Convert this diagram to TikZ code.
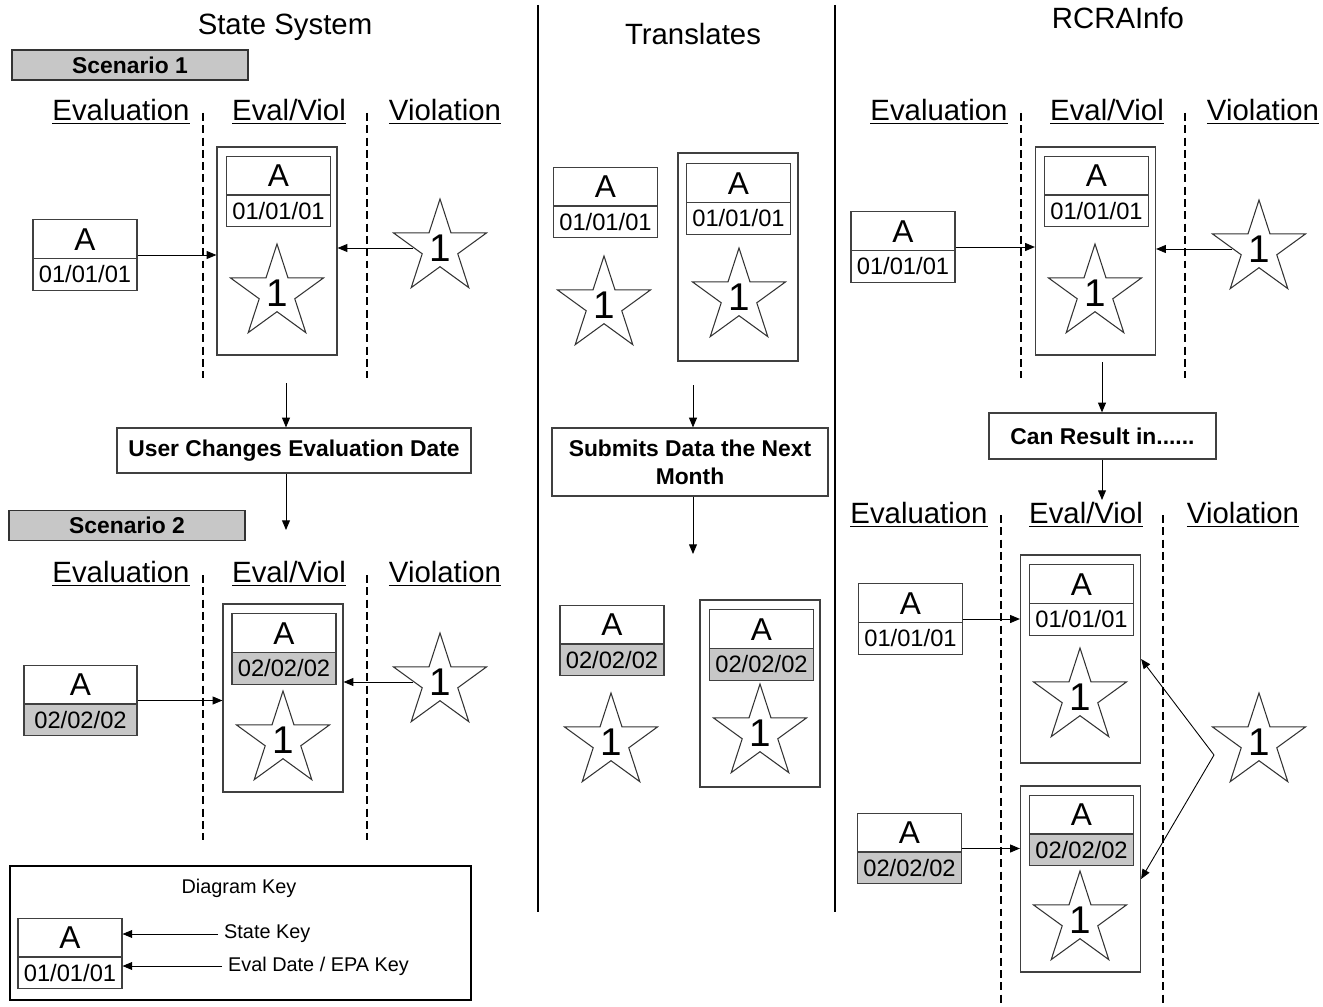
\documentclass[tikz,border=0pt]{standalone}
\usepackage{fontspec}
\setmainfont{Liberation Sans}
\usetikzlibrary{arrows.meta,positioning,shapes.geometric,shapes.multipart}

\newcommand{\titlefont}{\fontsize{16.7}{18}\selectfont}
\newcommand{\boxfont}{\fontsize{13}{15.8}\selectfont\bfseries}
\newcommand{\keyfont}{\fontsize{11.3}{13}\selectfont}
\newcommand{\recA}{\fontsize{18}{18}\selectfont\rule[-4.5pt]{0pt}{21.5pt}A}
\newcommand{\recdate}[1]{\fontsize{13.5}{13.5}\selectfont\rule[-4pt]{0pt}{17.5pt}#1}

\begin{document}
\begin{tikzpicture}[x=0.02cm, y=-0.02cm,
    rec/.style={rectangle split, rectangle split parts=2, draw=black!75,
                line width=0.6pt, inner ysep=0pt, minimum width=2.08cm,
                rectangle split part fill={white,#1}},
    rec/.default=white,
    evbox/.style={draw=black!75, line width=0.7pt, minimum width=2.4cm,
                  minimum height=#1, inner sep=0pt},
    vstar/.style={star, star points=5, star point ratio=2.62, draw=black!80,
                  line width=0.6pt, fill=white, minimum size=1.96cm, inner sep=0pt,
                  label={[font=\fontsize{22}{22}\selectfont]center:1}},
    colhead/.style={font=\titlefont},
    keytxt/.style={font=\keyfont},
    tbox/.style={draw=black!75, line width=0.7pt, font=\boxfont, align=center},
    scen/.style={draw=black!80, line width=0.8pt, fill=black!22, font=\boxfont,
                 minimum width=4.72cm, minimum height=0.6cm},
    divider/.style={line width=1.1pt, dash pattern=on 4.5pt off 2.5pt},
    wall/.style={line width=1.6pt},
    arr/.style={-{Triangle[length=5.5pt,width=4.5pt]}, line width=0.5pt}]

  \useasboundingbox (0,0) rectangle (1323,1007);

  % column walls
  \draw[wall] (538,5) -- (538,912);
  \draw[wall] (835,5) -- (835,912);

  % dashed dividers
  \foreach \x in {203,367} \draw[divider] (\x,113) -- (\x,378);
  \foreach \x in {203,367} \draw[divider] (\x,575) -- (\x,840);
  \foreach \x in {1021,1185} \draw[divider] (\x,113) -- (\x,378);
  \foreach \x in {1001,1163} \draw[divider] (\x,515) -- (\x,1007);

  % titles
  \node[colhead] (tstate) at (285,27)  {State System};
  \node[colhead] (ttrans) at (693,34)  {Translates};
  \node[colhead] (trcra)  at (1118,18) {RCRAInfo};

  % ---- State System, scenario 1
  \node[scen] (sc1) at (130,65) {Scenario 1};
  \node[colhead] (h1a) at (121,112) {\underline{Evaluation}};
  \node[colhead] (h1b) at (289,112) {\underline{Eval/Viol}};
  \node[colhead] (h1c) at (445,112) {\underline{Violation}};

  \node[rec] (s1eval) at (85,255) {\recA\nodepart{two}\recdate{01/01/01}};
  \node[evbox=4.16cm] (s1ev) at (277,251) {};
  \node[rec] (s1in) at (278.5,191.5) {\recA\nodepart{two}\recdate{01/01/01}};
  \node[vstar] (s1st) at (277,293) {};
  \node[vstar] (vs1) at (440,248) {};

  \draw[arr] (s1eval.east) -- (s1eval.east -| s1ev.west);
  \draw[arr] (vs1.west) -- (vs1.west -| s1ev.east);

  \coordinate (s1out) at (286,383);
  \coordinate (s2go)  at (286,530);
  \node[tbox, minimum width=7.08cm, minimum height=0.9cm] (chg) at (294,450.5)
    {User Changes Evaluation Date};
  \draw[arr] (s1out) -- (s1out |- chg.north);
  \draw[arr] (s2go |- chg.south) -- (s2go);

  % ---- State System, scenario 2
  \node[scen] (sc2) at (127,525.5) {Scenario 2};
  \node[colhead] (h2a) at (121,574) {\underline{Evaluation}};
  \node[colhead] (h2b) at (289,574) {\underline{Eval/Viol}};
  \node[colhead] (h2c) at (445,574) {\underline{Violation}};

  \node[rec=black!22, minimum width=2.26cm] (s2eval) at (80.5,700.5)
    {\recA\nodepart{two}\recdate{02/02/02}};
  \node[evbox=3.76cm] (s2ev) at (283,698) {};
  \node[rec=black!22] (s2in) at (284,649) {\recA\nodepart{two}\recdate{02/02/02}};
  \node[vstar] (s2st) at (283,740) {};
  \node[vstar] (vs2) at (440,682) {};

  \draw[arr] (s2eval.east) -- (s2eval.east -| s2ev.west);
  \draw[arr] (vs2.west) -- (vs2.west -| s2ev.east);

  % ---- diagram key
  \node[draw, line width=1.6pt, minimum width=9.22cm, minimum height=2.68cm] (keybox)
    at (240.5,933) {};
  \node[keytxt] (ktitle) at (239,888) {Diagram Key};
  \node[rec] (krec) at (70,953.5) {\recA\nodepart{two}\recdate{01/01/01}};
  \node[keytxt, anchor=west] (kstate) at (218,934) {State Key};
  \node[keytxt, anchor=west] (kdate)  at (222,966) {Eval Date / EPA Key};
  \draw[arr] (kstate.west) -- (kstate.west -| krec.east);
  \draw[arr] (kdate.west) -- (kdate.west -| krec.east);

  % ---- Translates
  \node[rec] (t1rec) at (605.5,202.5) {\recA\nodepart{two}\recdate{01/01/01}};
  \node[vstar] (t1st) at (604,305) {};
  \node[evbox=4.16cm] (t1ev) at (738,257) {};
  \node[rec] (t1in) at (738.5,199) {\recA\nodepart{two}\recdate{01/01/01}};
  \node[vstar] (t1evst) at (739,297) {};

  \coordinate (t1out) at (693,385);
  \coordinate (t2go)  at (693,554);
  \node[tbox, minimum width=5.52cm, minimum height=1.36cm] (sub) at (690,462)
    {Submits Data the Next\\Month};
  \draw[arr] (t1out) -- (t1out |- sub.north);
  \draw[arr] (t2go |- sub.south) -- (t2go);

  \node[rec=black!22] (t2rec) at (612,640.5) {\recA\nodepart{two}\recdate{02/02/02}};
  \node[vstar] (t2st) at (611,742) {};
  \node[evbox=3.74cm] (t2ev) at (760,693.5) {};
  \node[rec=black!22] (t2in) at (761.5,645) {\recA\nodepart{two}\recdate{02/02/02}};
  \node[vstar] (t2evst) at (760,733) {};

  % ---- RCRAInfo, top
  \node[colhead] (h3a) at (939,112)  {\underline{Evaluation}};
  \node[colhead] (h3b) at (1107,112) {\underline{Eval/Viol}};
  \node[colhead] (h3c) at (1263,112) {\underline{Violation}};

  \node[rec] (r1rec) at (903,247) {\recA\nodepart{two}\recdate{01/01/01}};
  \node[evbox=4.16cm] (r1ev) at (1095.5,251) {};
  \node[rec] (r1in) at (1096.5,191.5) {\recA\nodepart{two}\recdate{01/01/01}};
  \node[vstar] (r1st) at (1095,293) {};
  \node[vstar] (vr1) at (1259,249) {};

  \draw[arr] (r1rec.east) -- (r1rec.east -| r1ev.west);
  \draw[arr] (vr1.west) -- (vr1.west -| r1ev.east);

  \coordinate (r1out) at (1102,362);
  \coordinate (r2go)  at (1102,500);
  \node[tbox, minimum width=4.54cm, minimum height=0.92cm] (res) at (1102.5,436)
    {Can Result in......};
  \draw[arr] (r1out) -- (r1out |- res.north);
  \draw[arr] (r2go |- res.south) -- (r2go);

  % ---- RCRAInfo, result
  \node[colhead] (h4a) at (919,515)  {\underline{Evaluation}};
  \node[colhead] (h4b) at (1086,515) {\underline{Eval/Viol}};
  \node[colhead] (h4c) at (1243,515) {\underline{Violation}};

  \node[rec] (r2rec) at (910.5,619) {\recA\nodepart{two}\recdate{01/01/01}};
  \node[rec=black!22] (r3rec) at (909.5,848.5) {\recA\nodepart{two}\recdate{02/02/02}};
  \node[evbox=4.16cm] (r2ev) at (1080.5,659) {};
  \node[rec] (r2in) at (1081.5,600) {\recA\nodepart{two}\recdate{01/01/01}};
  \node[vstar] (r2st) at (1080,697) {};
  \node[evbox=3.72cm] (r3ev) at (1080.5,879) {};
  \node[rec=black!22] (r3in) at (1081.5,830.5) {\recA\nodepart{two}\recdate{02/02/02}};
  \node[vstar] (r3st) at (1080,920) {};
  \node[vstar] (vr2) at (1259,742) {};

  \draw[arr] (r2rec.east) -- (r2rec.east -| r2ev.west);
  \draw[arr] (r3rec.east) -- (r3rec.east -| r3ev.west);
  \coordinate (vfork) at (1214,755);
  \draw[arr] (vfork) -- (r2ev.east);
  \draw[arr] (vfork) -- (r3ev.east);
\end{tikzpicture}
\end{document}
